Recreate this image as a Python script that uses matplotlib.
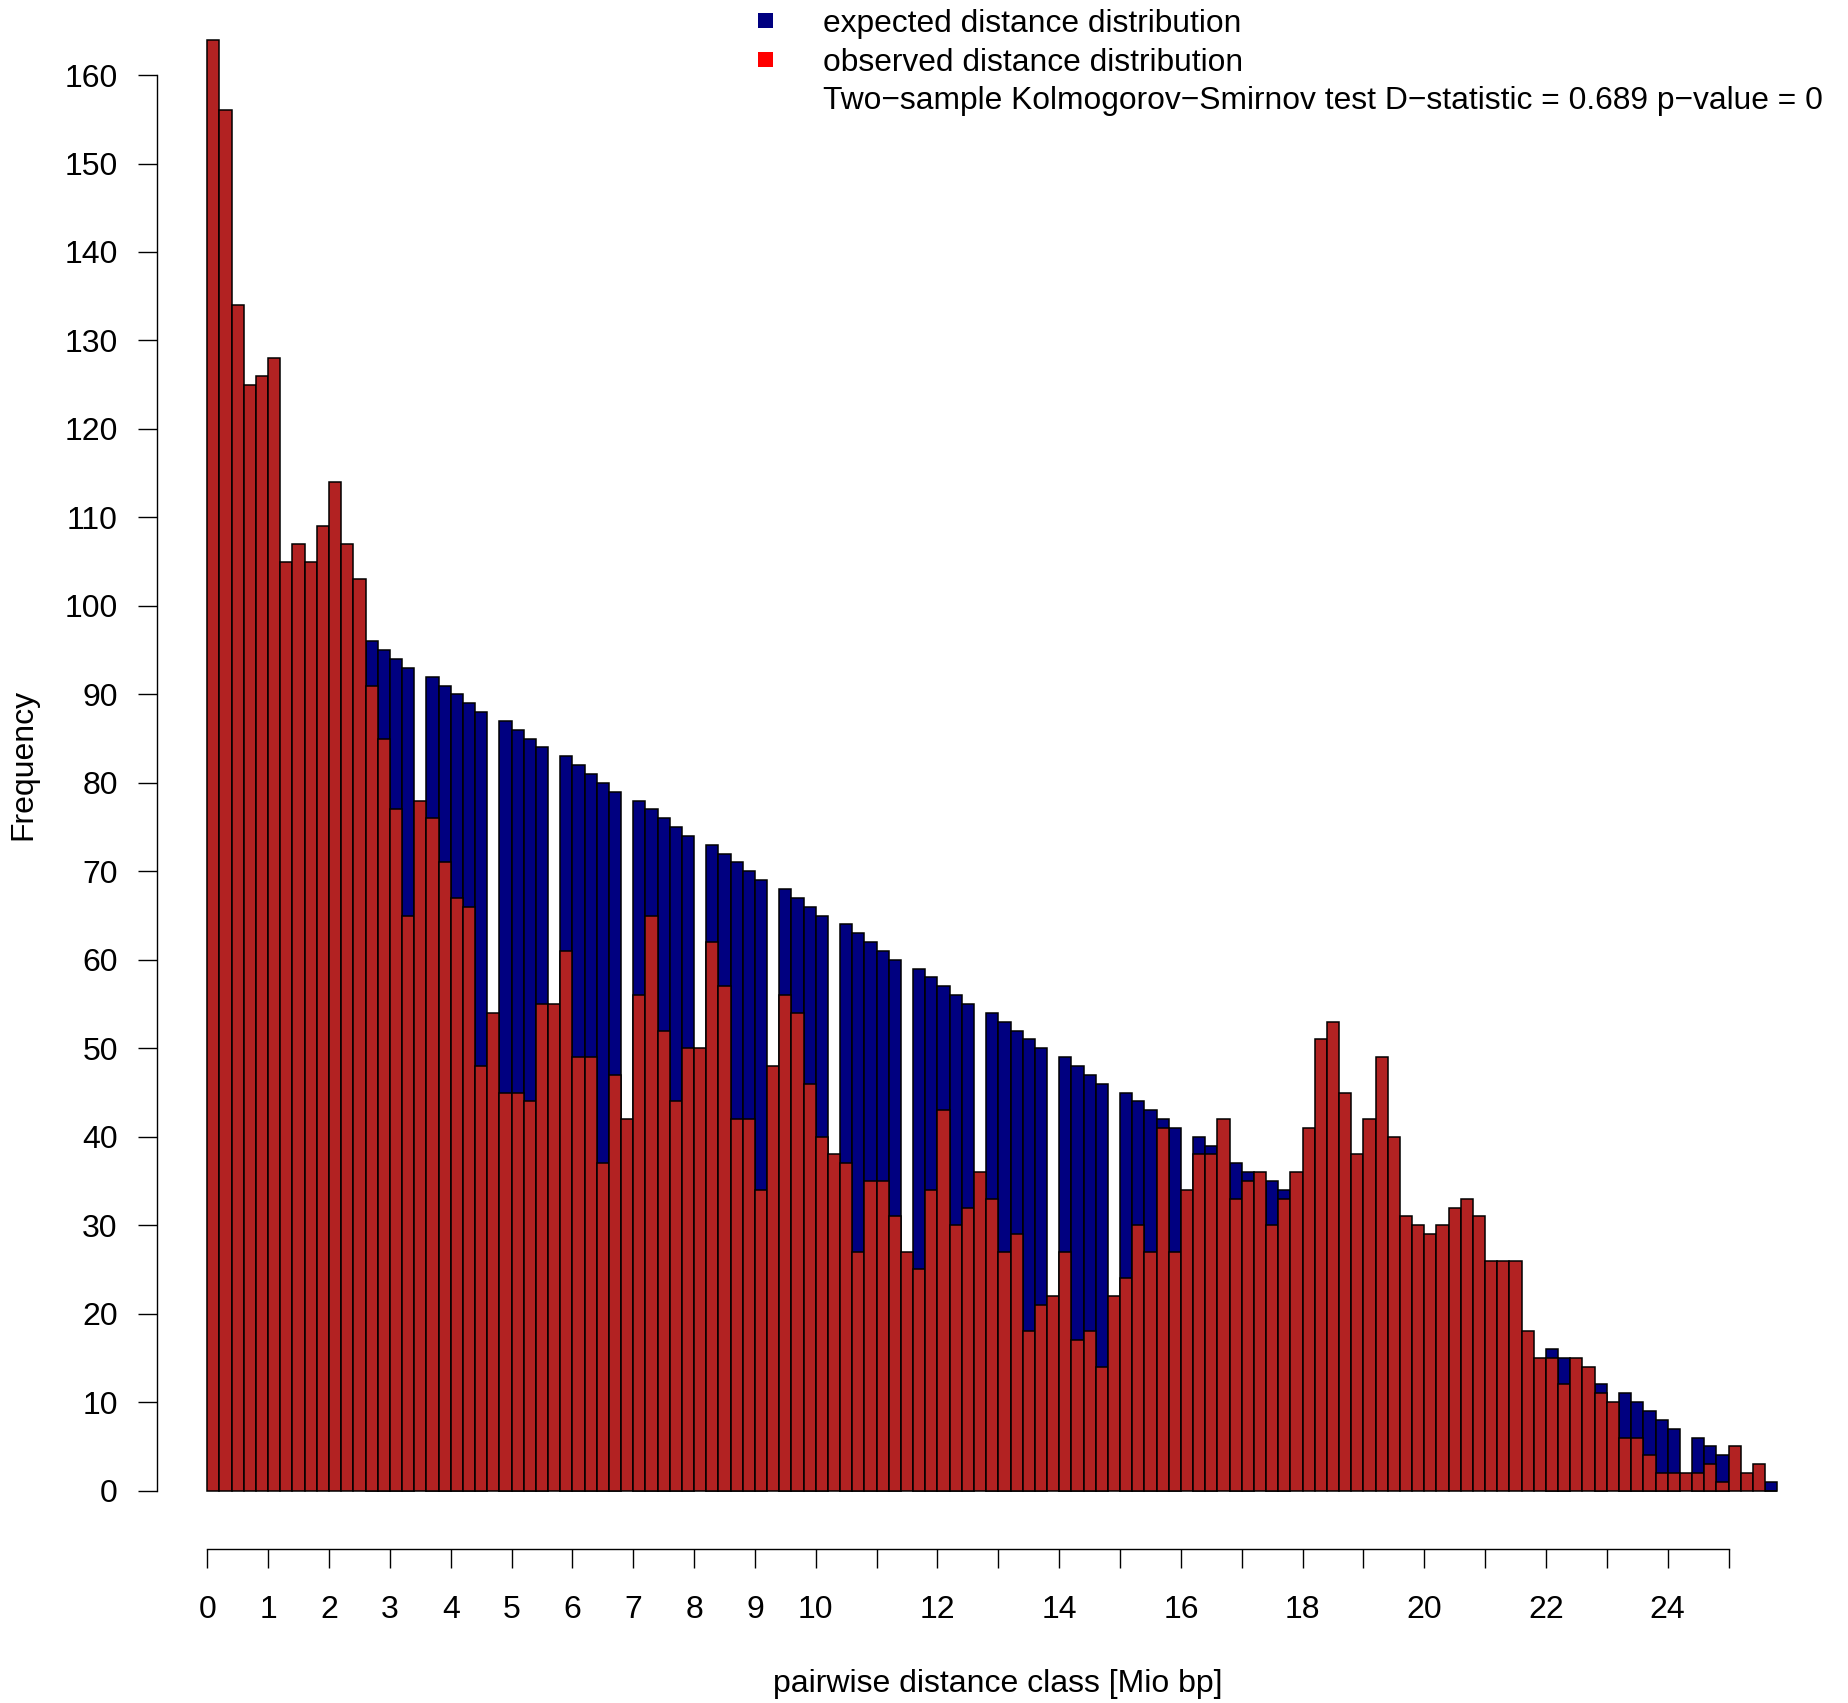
import matplotlib
matplotlib.use("Agg")
import matplotlib.pyplot as plt
from matplotlib.patches import Rectangle
import numpy as np

plt.rcParams['font.family'] = ['Liberation Sans', 'DejaVu Sans']

# histogram bins: 0.2 Mio bp wide, starting at 0
bin_width = 0.2

observed = [164, 156, 134, 125, 126, 128, 105, 107, 105, 109, 114, 107, 103,
            91, 85, 77, 65, 78, 76, 71, 67, 66, 48, 54,
            45, 45, 44, 55, 55,
            61, 49, 49, 37, 47, 42,
            56, 65, 52, 44, 50, 50,
            62, 57, 42, 42, 34, 48,
            56, 54, 46, 40, 38,
            37, 27, 35, 35, 31, 27,
            25, 34, 43, 30, 32, 36,
            33, 27, 29, 18, 21, 22,
            27, 17, 18, 14, 22,
            24, 30, 27, 41, 27, 34,
            38, 38, 42,
            33, 35, 36,
            30, 33, 36,
            41, 51, 53, 45, 38, 42, 49, 40, 31, 30,
            29, 30, 32, 33, 31, 26, 26, 26, 18, 15,
            15, 12, 15, 14, 11, 10,
            6, 6, 4, 2, 2, 2,
            2, 3, 1, 5, 2, 3, 0]

# None = expected bar hidden behind the (taller) observed bar
expected = [None] * 13 + [
            96, 95, 94, 93, None, 92, 91, 90, 89, 88, None,
            87, 86, 85, 84, None,
            83, 82, 81, 80, 79, None,
            78, 77, 76, 75, 74, None,
            73, 72, 71, 70, 69, None,
            68, 67, 66, 65, None,
            64, 63, 62, 61, 60, None,
            59, 58, 57, 56, 55, None,
            54, 53, 52, 51, 50, None,
            49, 48, 47, 46, None,
            45, 44, 43, 42, 41, None,
            40, 39, None,
            37, 36, None,
            35, 34, None] + [None] * 20 + [
            16, 15, None, None, 12, None,
            11, 10, 9, 8, 7, None,
            6, 5, 4, None, None, None, 1]

legend_labels = ["expected distance distribution",
                 "observed distance distribution",
                 "Two\u2212sample Kolmogorov\u2212Smirnov test D\u2212statistic = 0.689 p\u2212value = 0"]

x_ticks = list(range(0, 26))
x_ticklabels = [str(t) if (t <= 10 or t % 2 == 0) else "" for t in x_ticks]
y_ticks = list(range(0, 161, 10))

W, H = 1849, 1703
fig = plt.figure(figsize=(W / 100, H / 100), dpi=100)

# plot region in pixels (R style: ylim/xlim extended by 4%)
left_px, right_px = 144.5, 1840.0
bottom_px, top_px = 1548.7, -18.4
ax = fig.add_axes([left_px / W, (H - bottom_px) / H,
                   (right_px - left_px) / W, (bottom_px - top_px) / H])
ax.set_xlim(-1.032, 26.832)
ax.set_ylim(-6.56, 170.56)

edges = np.arange(len(observed)) * bin_width
exp_arr = np.array([np.nan if v is None else v for v in expected], dtype=float)
mask = ~np.isnan(exp_arr)

ax.bar(edges[mask], exp_arr[mask], width=bin_width, align='edge',
       color='#000080', edgecolor='black', linewidth=1.1, zorder=2)
ax.bar(edges, observed, width=bin_width, align='edge',
       color='#B22222', edgecolor='black', linewidth=1.1, zorder=3)

for s in ['top', 'right']:
    ax.spines[s].set_visible(False)
ax.spines['left'].set_position(('data', -0.832))
ax.spines['left'].set_bounds(0, 160)
ax.spines['bottom'].set_bounds(0, 25)
ax.spines['left'].set_linewidth(1.0)
ax.spines['bottom'].set_linewidth(1.0)

ax.set_yticks(y_ticks)
ax.set_yticklabels([str(t) for t in y_ticks])
ax.set_xticks(x_ticks)
ax.set_xticklabels(x_ticklabels)
ax.tick_params(axis='both', direction='out', length=14, width=1.0,
               labelsize=23, colors='black')
ax.tick_params(axis='y', pad=14)
ax.tick_params(axis='x', pad=19)

fig.text(23.6 / W, 1 - 764 / H, "Frequency", rotation=90, fontsize=23,
         ha='center', va='center')
fig.text(998 / W, 1 - 1684 / H, "pairwise distance class [Mio bp]",
         fontsize=23, ha='center', va='center')

# legend drawn R-style: small filled squares + text, no frame
sq = 15
sq_centers = [20.7, 59.2, 97.8]
baselines = [32.3, 70.6, 108.5]
sq_colors = ['#000080', '#FF0000', None]
for yc, yb, col, lab in zip(sq_centers, baselines, sq_colors, legend_labels):
    if col is not None:
        fig.add_artist(Rectangle(((765.5 - sq / 2) / W, 1 - (yc + sq / 2) / H),
                                 sq / W, sq / H, transform=fig.transFigure,
                                 facecolor=col, edgecolor='none'))
    fig.text(823 / W, 1 - yb / H, lab, fontsize=22.85, ha='left', va='baseline')

fig.savefig("out.png", dpi=100)
